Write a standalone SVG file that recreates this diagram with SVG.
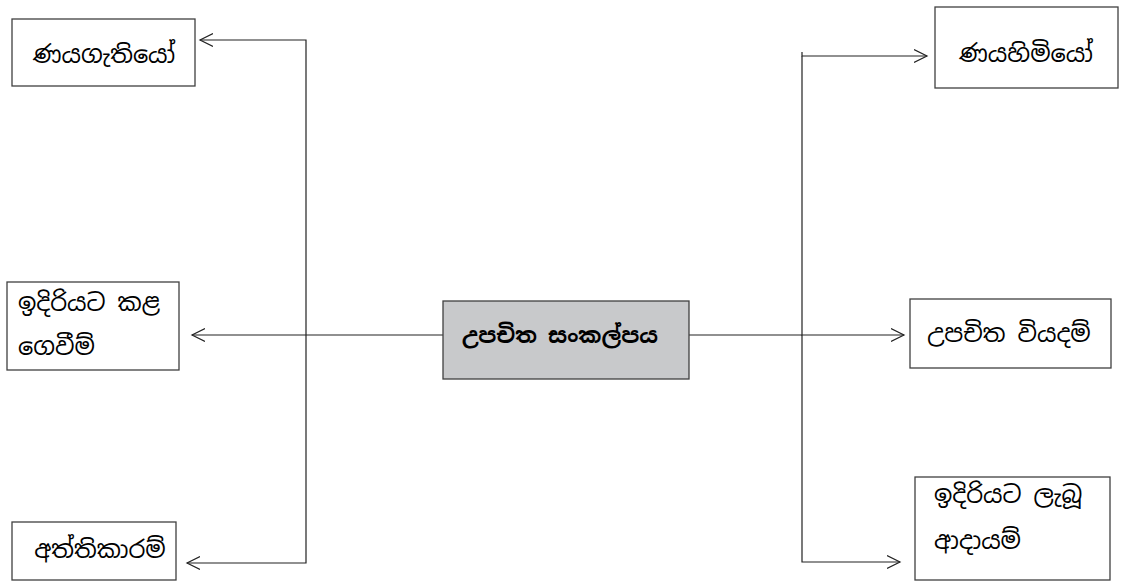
<svg xmlns="http://www.w3.org/2000/svg" width="1121" height="584" viewBox="0 0 1121 584">
<style>
.box{fill:#fff;stroke:#404040;stroke-width:1.3}
.center{fill:#c8c9cb;stroke:#404040;stroke-width:1.3}
.t{font-family:"Noto Sans Sinhala","Noto Serif Sinhala","Iskoola Pota","Noto Sans","DejaVu Sans",sans-serif;font-size:24px;fill:#000}
.tb{font-family:"Noto Sans Sinhala","Noto Serif Sinhala","Iskoola Pota","Noto Sans","DejaVu Sans",sans-serif;font-size:22px;font-weight:bold;fill:#000}
.ln{fill:none;stroke:#222;stroke-width:1.2}
</style>
<defs>
<marker id="ah" markerWidth="16" markerHeight="16" refX="13" refY="8" orient="auto" markerUnits="userSpaceOnUse">
<polyline points="0,1.5 13,8 0,14.5" fill="none" stroke="#222" stroke-width="1.2"/>
</marker>
</defs>
<rect width="1121" height="584" fill="#fff"/>
<g id="connectors">
<polyline class="ln" points="306,335 306,40 200,40" marker-end="url(#ah)"/>
<polyline class="ln" points="306,335 192,335" marker-end="url(#ah)"/>
<polyline class="ln" points="306,335 306,563 187,563" marker-end="url(#ah)"/>
<line class="ln" x1="306" y1="335" x2="443" y2="335"/>
<line class="ln" x1="689" y1="335" x2="802" y2="335"/>
<polyline class="ln" points="802,52 802,56 927,56" marker-end="url(#ah)"/>
<polyline class="ln" points="802,56 802,335 904,335" marker-end="url(#ah)"/>
<polyline class="ln" points="802,335 802,562 900,562" marker-end="url(#ah)"/>
</g>
<g id="n-center">
<rect class="center" x="443" y="301" width="246" height="78"/>
<text class="tb" x="560" y="343" text-anchor="middle">උපචිත සංකල්පය</text>
</g>
<g id="n-debtors">
<rect class="box" x="12" y="19" width="183" height="67"/>
<text class="t" x="104" y="63" text-anchor="middle">ණයගැතියෝ</text>
</g>
<g id="n-prepaid">
<rect class="box" x="7" y="282" width="172" height="88"/>
<text class="t" x="18" y="311">ඉදිරියට කළ</text>
<text class="t" x="18" y="355">ගෙවීම්</text>
</g>
<g id="n-advances">
<rect class="box" x="12" y="522" width="164" height="58"/>
<text class="t" x="100" y="558" text-anchor="middle">අත්තිකාරම්</text>
</g>
<g id="n-creditors">
<rect class="box" x="935" y="7" width="183" height="81"/>
<text class="t" x="1026" y="62" text-anchor="middle">ණයහිමියෝ</text>
</g>
<g id="n-accrued">
<rect class="box" x="910" y="299" width="201" height="69"/>
<text class="t" x="1009" y="342" text-anchor="middle">උපචිත වියදම්</text>
</g>
<g id="n-received">
<rect class="box" x="915" y="477" width="195" height="103"/>
<text class="t" x="934" y="503">ඉදිරියට ලැබූ</text>
<text class="t" x="934" y="549">ආදායම්</text>
</g>
</svg>
